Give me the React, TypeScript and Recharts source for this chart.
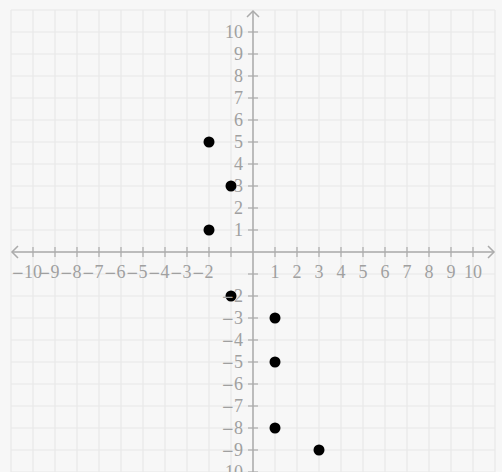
import {
  ScatterChart,
  Scatter,
  CartesianGrid,
  XAxis,
  YAxis,
  ReferenceLine,
} from "recharts"

// points
const xValues = [-2, -1, -2, -1, 1, 1, 1, 3]
const yValues = [5, 3, 1, -2, -3, -5, -8, -9]

// grid / tick values
const xTicks = [-11, -10, -9, -8, -7, -6, -5, -4, -3, -2, -1, 0, 1, 2, 3, 4, 5, 6, 7, 8, 9, 10, 11]
const yTicks = [-10, -9, -8, -7, -6, -5, -4, -3, -2, -1, 0, 1, 2, 3, 4, 5, 6, 7, 8, 9, 10, 11]
const hiddenLabels = [0, -1]

const points = xValues.map((x, i) => ({ x, y: yValues[i] }))

const W = 502
const H = 472
// axes take 1px each (a 0px axis is not drawn), so the margins give that pixel back
const margin = { top: 10, right: 7, bottom: -1, left: 10 }
const xDomain = [-11, 11]
const yDomain = [-10, 11]

// where the axes cross, from the same domains the chart uses
const plotLeft = margin.left + 1
const plotW = W - plotLeft - margin.right
const plotH = H - margin.top - (margin.bottom + 1)
const originX = plotLeft + ((0 - xDomain[0]) / (xDomain[1] - xDomain[0])) * plotW
const originY = margin.top + ((yDomain[1] - 0) / (yDomain[1] - yDomain[0])) * plotH

const axisColor = "#ababab"
const labelColor = "#a0a0a0"
const font = "'Liberation Serif', serif"
const minusFont = "'DejaVu Serif', serif"
const fs = 18

function XTick(props: any) {
  const { x, payload } = props
  const v = payload.value
  if (v === 0 || Math.abs(v) > 10) return <g />
  const abs = Math.abs(v)
  const half = String(abs).length * fs * 0.25
  const show = !hiddenLabels.includes(v)
  return (
    <g>
      <line x1={x} x2={x} y1={originY - 5} y2={originY + 5} stroke={axisColor} strokeWidth={1.2} />
      {show && (
        <text x={x} y={originY + 26} textAnchor="middle" fill={labelColor} fontFamily={font} fontSize={fs}>
          {abs}
        </text>
      )}
      {show && v < 0 && (
        <text x={x - half} y={originY + 26} textAnchor="end" fill={labelColor} fontFamily={minusFont} fontSize={15}>
          −
        </text>
      )}
    </g>
  )
}

function YTick(props: any) {
  const { y, payload } = props
  const v = payload.value
  if (v === 0 || Math.abs(v) > 10) return <g />
  return (
    <g>
      <line x1={originX - 5} x2={originX + 5} y1={y} y2={y} stroke={axisColor} strokeWidth={1.2} />
      {!hiddenLabels.includes(v) && (
        <text x={originX - 10} y={y} dy="0.34em" textAnchor="end" fill={labelColor} fontFamily={font} fontSize={fs}>
          {v < 0 && (
            <tspan fontFamily={minusFont} fontSize={15}>
              −
            </tspan>
          )}
          <tspan>{Math.abs(v)}</tspan>
        </text>
      )}
    </g>
  )
}

function VAxis(p: any) {
  const top = Math.min(p.y1, p.y2)
  const bottom = Math.max(p.y1, p.y2)
  const x = p.x1
  return (
    <g>
      <line x1={x} x2={x} y1={top + 1} y2={bottom} stroke={axisColor} strokeWidth={1.5} />
      <polyline points={`${x - 6},${top + 7} ${x},${top + 1} ${x + 6},${top + 7}`} fill="none" stroke={axisColor} strokeWidth={1.5} />
    </g>
  )
}

function HAxis(p: any) {
  const left = Math.min(p.x1, p.x2)
  const right = Math.max(p.x1, p.x2)
  const y = p.y1
  return (
    <g>
      <line x1={left + 1} x2={right - 1} y1={y} y2={y} stroke={axisColor} strokeWidth={1.5} />
      <polyline points={`${left + 7},${y - 6} ${left + 1},${y} ${left + 7},${y + 6}`} fill="none" stroke={axisColor} strokeWidth={1.5} />
      <polyline points={`${right - 7},${y - 6} ${right - 1},${y} ${right - 7},${y + 6}`} fill="none" stroke={axisColor} strokeWidth={1.5} />
    </g>
  )
}

export default function App() {
  return (
    <div style={{ position: "absolute", left: 0, top: 0, width: W, height: H, background: "#f7f7f7", overflow: "hidden" }}>
      <ScatterChart width={W} height={H} margin={margin}>
        <CartesianGrid stroke="#e8e8e8" strokeWidth={1.2} />
        <XAxis
          type="number"
          dataKey="x"
          domain={xDomain}
          ticks={xTicks}
          interval={0}
          height={1}
          axisLine={false}
          tickLine={false}
          tick={<XTick />}
          allowDataOverflow
        />
        <YAxis
          type="number"
          dataKey="y"
          domain={yDomain}
          ticks={yTicks}
          interval={0}
          width={1}
          axisLine={false}
          tickLine={false}
          tick={<YTick />}
          allowDataOverflow
        />
        <ReferenceLine x={0} shape={VAxis} />
        <ReferenceLine y={0} shape={HAxis} />
        <Scatter
          data={points}
          isAnimationActive={false}
          shape={(p: any) => <circle cx={p.cx} cy={p.cy} r={5.5} fill="#000" />}
        />
      </ScatterChart>
    </div>
  )
}
